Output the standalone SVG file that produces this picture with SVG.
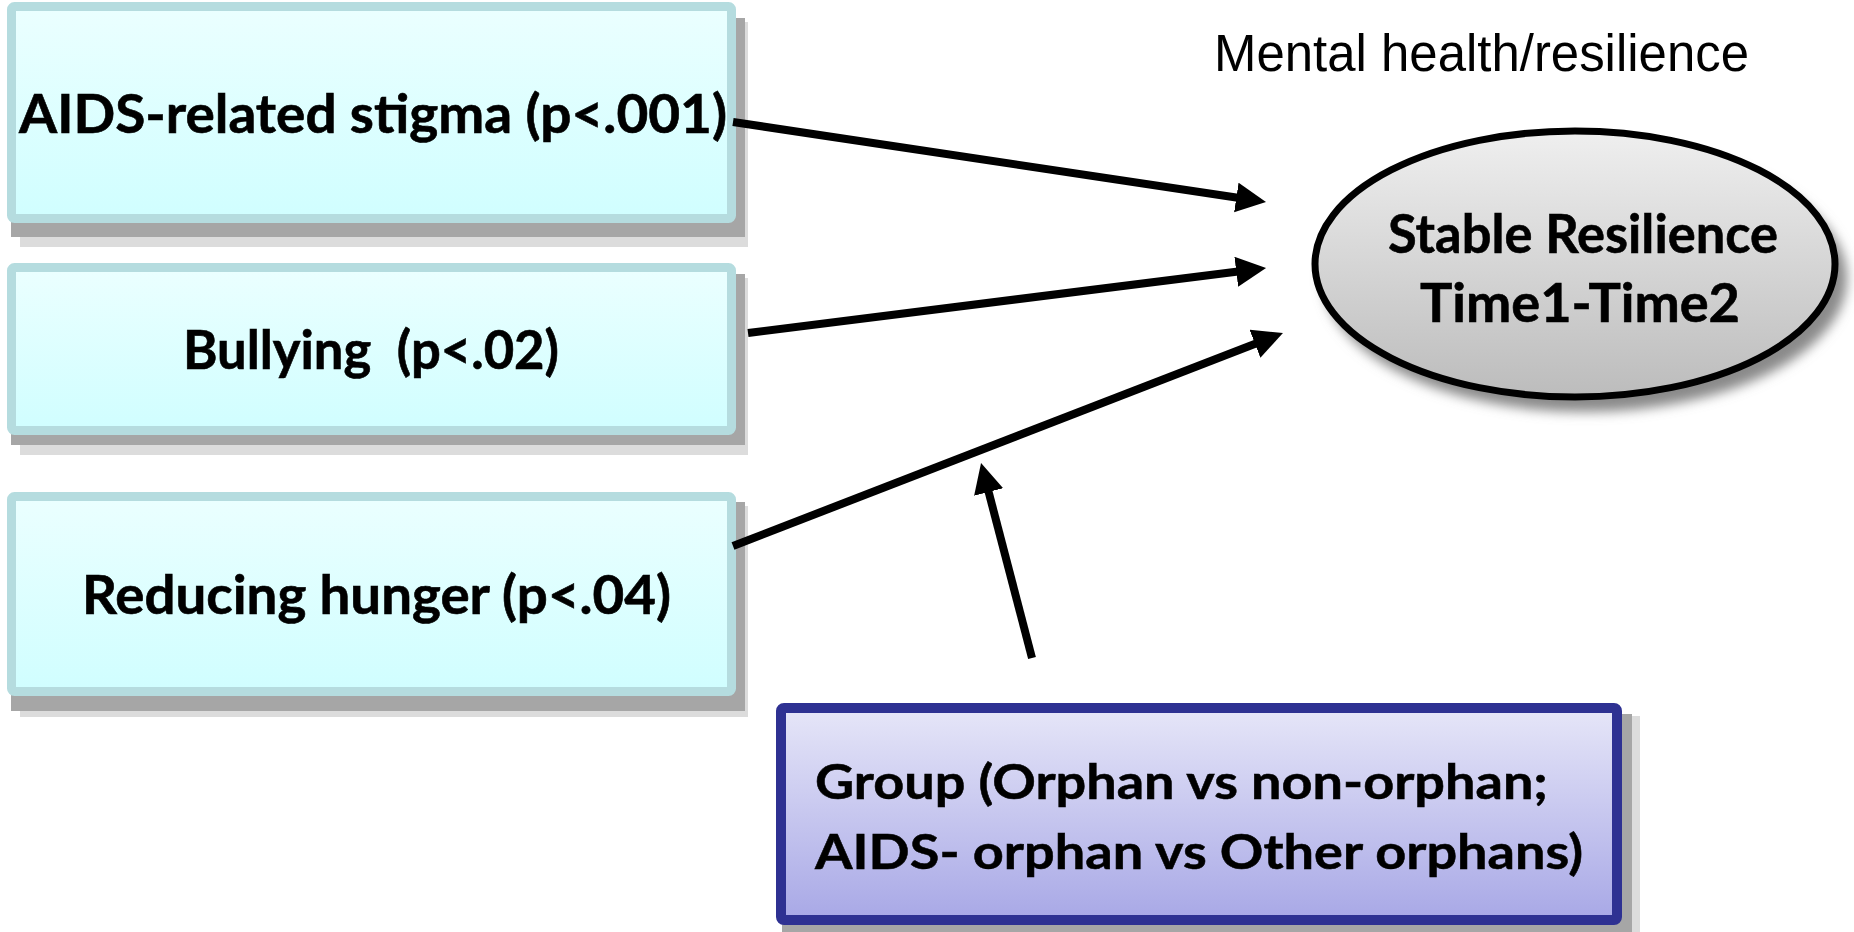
<svg xmlns="http://www.w3.org/2000/svg" width="1854" height="932" viewBox="0 0 1854 932">
<style>
.lbl{font-family:Lato,"Open Sans","Liberation Sans",sans-serif;font-weight:bold;font-size:53px;fill:#000;stroke:#000;stroke-width:0.6}
.grp{font-family:Lato,"Open Sans","Liberation Sans",sans-serif;font-weight:bold;font-size:47px;fill:#000;stroke:#000;stroke-width:0.5}
.ttl{font-family:"Liberation Sans",Arial,sans-serif;font-size:51px;fill:#000}
.tbox{fill:url(#gTeal);stroke:#b5dcdf;stroke-width:9}
.shD{fill:#a6a6a6}
.shL{fill:#dcdcdc}
.conn{stroke:#000;stroke-width:8;fill:none;marker-end:url(#ah)}
</style>
<defs>
<linearGradient id="gTeal" x1="0" y1="0" x2="0" y2="1">
<stop offset="0" stop-color="#ebffff"/>
<stop offset="1" stop-color="#d0feff"/>
</linearGradient>
<linearGradient id="gBlue" x1="0" y1="0" x2="0" y2="1">
<stop offset="0" stop-color="#e6e6f8"/>
<stop offset="1" stop-color="#a8a8e6"/>
</linearGradient>
<linearGradient id="gGray" x1="0" y1="0" x2="0" y2="1">
<stop offset="0" stop-color="#efefef"/>
<stop offset="1" stop-color="#bcbcbc"/>
</linearGradient>
<filter id="blur" x="-20%" y="-20%" width="140%" height="140%">
<feGaussianBlur stdDeviation="6"/>
</filter>
<marker id="ah" markerUnits="userSpaceOnUse" markerWidth="32" markerHeight="32" refX="10" refY="15" orient="auto">
<path d="M0,0 L30,15 L0,30 Z" fill="#000"/>
</marker>
</defs>

<g id="title">
<text class="ttl" x="1214" y="71" textLength="535" lengthAdjust="spacingAndGlyphs">Mental health/resilience</text>
</g>

<g id="node-stigma">
<rect class="shL" x="20" y="22" width="728" height="225"/>
<rect class="shD" x="11" y="18" width="734" height="219"/>
<rect class="tbox" x="11.5" y="6.5" width="720" height="212" rx="3"/>
<text class="lbl" x="19" y="133" textLength="708" lengthAdjust="spacingAndGlyphs">AIDS-related stigma (p&lt;.001)</text>
</g>

<g id="node-bullying">
<rect class="shL" x="20" y="278" width="728" height="177"/>
<rect class="shD" x="11" y="274" width="734" height="171"/>
<rect class="tbox" x="11.5" y="267.5" width="720" height="163" rx="3"/>
<text class="lbl" x="183" y="369" textLength="376" lengthAdjust="spacingAndGlyphs" xml:space="preserve">Bullying  (p&lt;.02)</text>
</g>

<g id="node-hunger">
<rect class="shL" x="20" y="506" width="728" height="211"/>
<rect class="shD" x="11" y="502" width="734" height="209"/>
<rect class="tbox" x="11.5" y="496.5" width="720" height="195" rx="3"/>
<text class="lbl" x="82" y="614" textLength="589" lengthAdjust="spacingAndGlyphs">Reducing hunger (p&lt;.04)</text>
</g>

<g id="node-resilience">
<ellipse cx="1585" cy="278" rx="262" ry="134" fill="#8a8a8a" filter="url(#blur)"/>
<ellipse cx="1575" cy="264" rx="260" ry="133" fill="url(#gGray)" stroke="#000" stroke-width="7"/>
<text class="lbl" x="1388" y="253" textLength="390" lengthAdjust="spacingAndGlyphs">Stable Resilience</text>
<text class="lbl" x="1420" y="322" textLength="320" lengthAdjust="spacingAndGlyphs">Time1-Time2</text>
</g>

<g id="node-group">
<rect class="shL" x="790" y="716" width="850" height="220"/>
<rect class="shD" x="782" y="714" width="850" height="220"/>
<rect x="781" y="708" width="836" height="212" rx="3" fill="url(#gBlue)" stroke="#2e3192" stroke-width="10"/>
<text class="grp" x="815" y="799" textLength="733" lengthAdjust="spacingAndGlyphs">Group (Orphan vs non-orphan;</text>
<text class="grp" x="815" y="869" textLength="768" lengthAdjust="spacingAndGlyphs">AIDS- orphan vs Other orphans)</text>
</g>

<g id="connectors">
<line class="conn" x1="733" y1="122" x2="1246.2" y2="199"/>
<line class="conn" x1="748" y1="333" x2="1246.2" y2="270.5"/>
<line class="conn" x1="733" y1="546" x2="1264.3" y2="340.2"/>
<line class="conn" x1="1032" y1="658" x2="986.1" y2="482.3"/>
</g>
</svg>
